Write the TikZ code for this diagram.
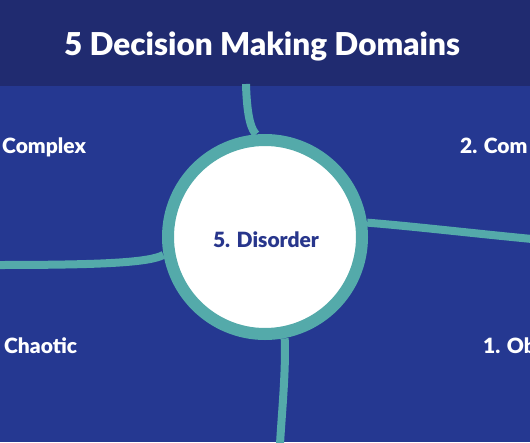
\documentclass[tikz,border=0pt]{standalone}
\usepackage{fontspec}
\setmainfont{Lato}[BoldFont={Lato Black}]
\usepackage{xcolor}
\definecolor{headblue}{RGB}{32,43,112}
\definecolor{bodyblue}{RGB}{37,56,145}
\definecolor{ringteal}{RGB}{84,170,170}
\definecolor{disorderblue}{RGB}{40,54,140}

\begin{document}
\begin{tikzpicture}[x=1pt,y=-1pt,
  zone/.style={text=white,font=\bfseries\fontsize{21}{25}\selectfont,inner sep=0pt,anchor=base west},
  vein/.style={draw=ringteal,line width=8pt},
  ring/.style={circle,fill=white,draw=ringteal,line width=12pt,minimum size=194pt,inner sep=0pt}]

\useasboundingbox (0,0) rectangle (530,442);
\clip (0,0) rectangle (530,442);

% backgrounds
\fill[bodyblue] (0,0) rectangle (530,442);
\fill[headblue] (0,0) rectangle (530,86);

\node[text=white,font=\bfseries\fontsize{31.5}{36}\selectfont,anchor=base] (title) at (262,55) {5 Decision Making Domains};

\path node[circle,minimum size=206pt,inner sep=0pt] (disorder) at (265,237) {};
\coordinate (topend) at (246,84);
\coordinate (leftend) at (-2,265);
\coordinate (rightend) at (532,239);
\coordinate (bottomend) at (280,444);

% connectors
\draw[vein] (topend) .. controls (247,120) and (252,130) .. (disorder.95);
\draw[vein] (leftend) .. controls (110,265) and (150,262) .. (disorder.190);
\draw[vein] (disorder.8) .. controls (410,226) and (470,233) .. (rightend);
\draw[vein] (disorder.-79) .. controls (286,370) and (282,410) .. (bottomend);

\node[ring] (disorderring) at (disorder) {};
\node[font=\bfseries\fontsize{21}{25}\selectfont,text=disorderblue,anchor=base] (disorderlabel) at (266,247) {5. Disorder};

\node[zone] (complex) at (2,153) {Complex};
\node[zone] (complicated) at (460,153) {2. Com};
\node[zone] (chaotic) at (4,353) {Chaotic};
\node[zone] (obvious) at (483,353) {1. Ob};

\end{tikzpicture}
\end{document}
